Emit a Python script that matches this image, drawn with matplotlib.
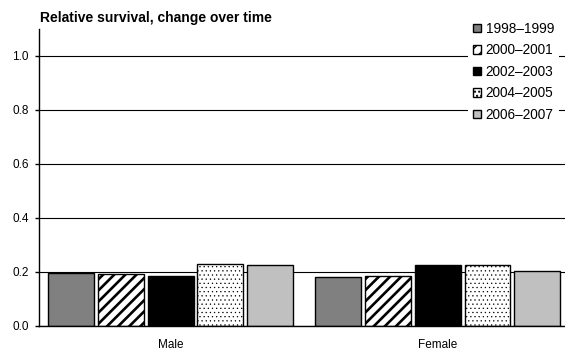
import matplotlib as mpl
import matplotlib.pyplot as plt
import numpy as np

plt.rcParams['font.family'] = ['Liberation Sans', 'DejaVu Sans']

# data
groups = ['Male', 'Female']
periods = ['1998\u20131999', '2000\u20132001', '2002\u20132003', '2004\u20132005', '2006\u20132007']
male = [0.198, 0.193, 0.185, 0.228, 0.227]
female = [0.181, 0.186, 0.226, 0.226, 0.204]
yticks = [0.0, 0.2, 0.4, 0.6, 0.8, 1.0]

faces = ['#808080', 'white', 'black', 'white', '#c0c0c0']
hatches = [None, '///', None, '....', None]
hatch_lw = [1.0, 1.9, 1.0, 0.4, 1.0]

fig = plt.figure(figsize=(5.65, 3.51), dpi=100)
ax = fig.add_axes([38.5 / 565, 1 - 326 / 351, 1 - 38.5 / 565, 297 / 351])

x = np.arange(len(groups))
step, width = 0.186, 0.172
for i, name in enumerate(periods):
    vals = [male[i], female[i]]
    with mpl.rc_context({'hatch.linewidth': hatch_lw[i]}):
        ax.bar(x + (i - 2) * step, vals, width, color=faces[i], edgecolor='black',
               linewidth=1.0, hatch=hatches[i], label=name, zorder=2)

ax.set_xlim(-0.494, 1.476)
ax.set_ylim(0, 1.1)
ax.set_yticks(yticks)
ax.set_yticklabels([f'{v:.1f}' for v in yticks])
ax.set_xticks(x)
ax.set_xticklabels(groups)
ax.set_axisbelow(True)
ax.yaxis.grid(True, color='black', linewidth=0.8)

for s in ['top', 'right']:
    ax.spines[s].set_visible(False)
for s in ['left', 'bottom']:
    ax.spines[s].set_linewidth(1.0)

ax.tick_params(axis='x', length=0, pad=9, labelsize=8.5)
ax.tick_params(axis='y', length=3, width=1.0, pad=4, labelsize=8.5)

fig.text(40 / 565, 1 - 18 / 351, 'Relative survival, change over time',
         fontsize=10, fontweight='bold', va='center', ha='left')

leg = fig.legend(loc='upper left', bbox_to_anchor=(468 / 565, 1 - 17 / 351),
                 fontsize=9.8, frameon=True, facecolor='white', edgecolor='none',
                 framealpha=1, fancybox=False, handlelength=0.6, handleheight=0.6,
                 handletextpad=0.35, labelspacing=0.55, borderpad=0.35, borderaxespad=0)

fig.savefig('out.png', dpi=100)
